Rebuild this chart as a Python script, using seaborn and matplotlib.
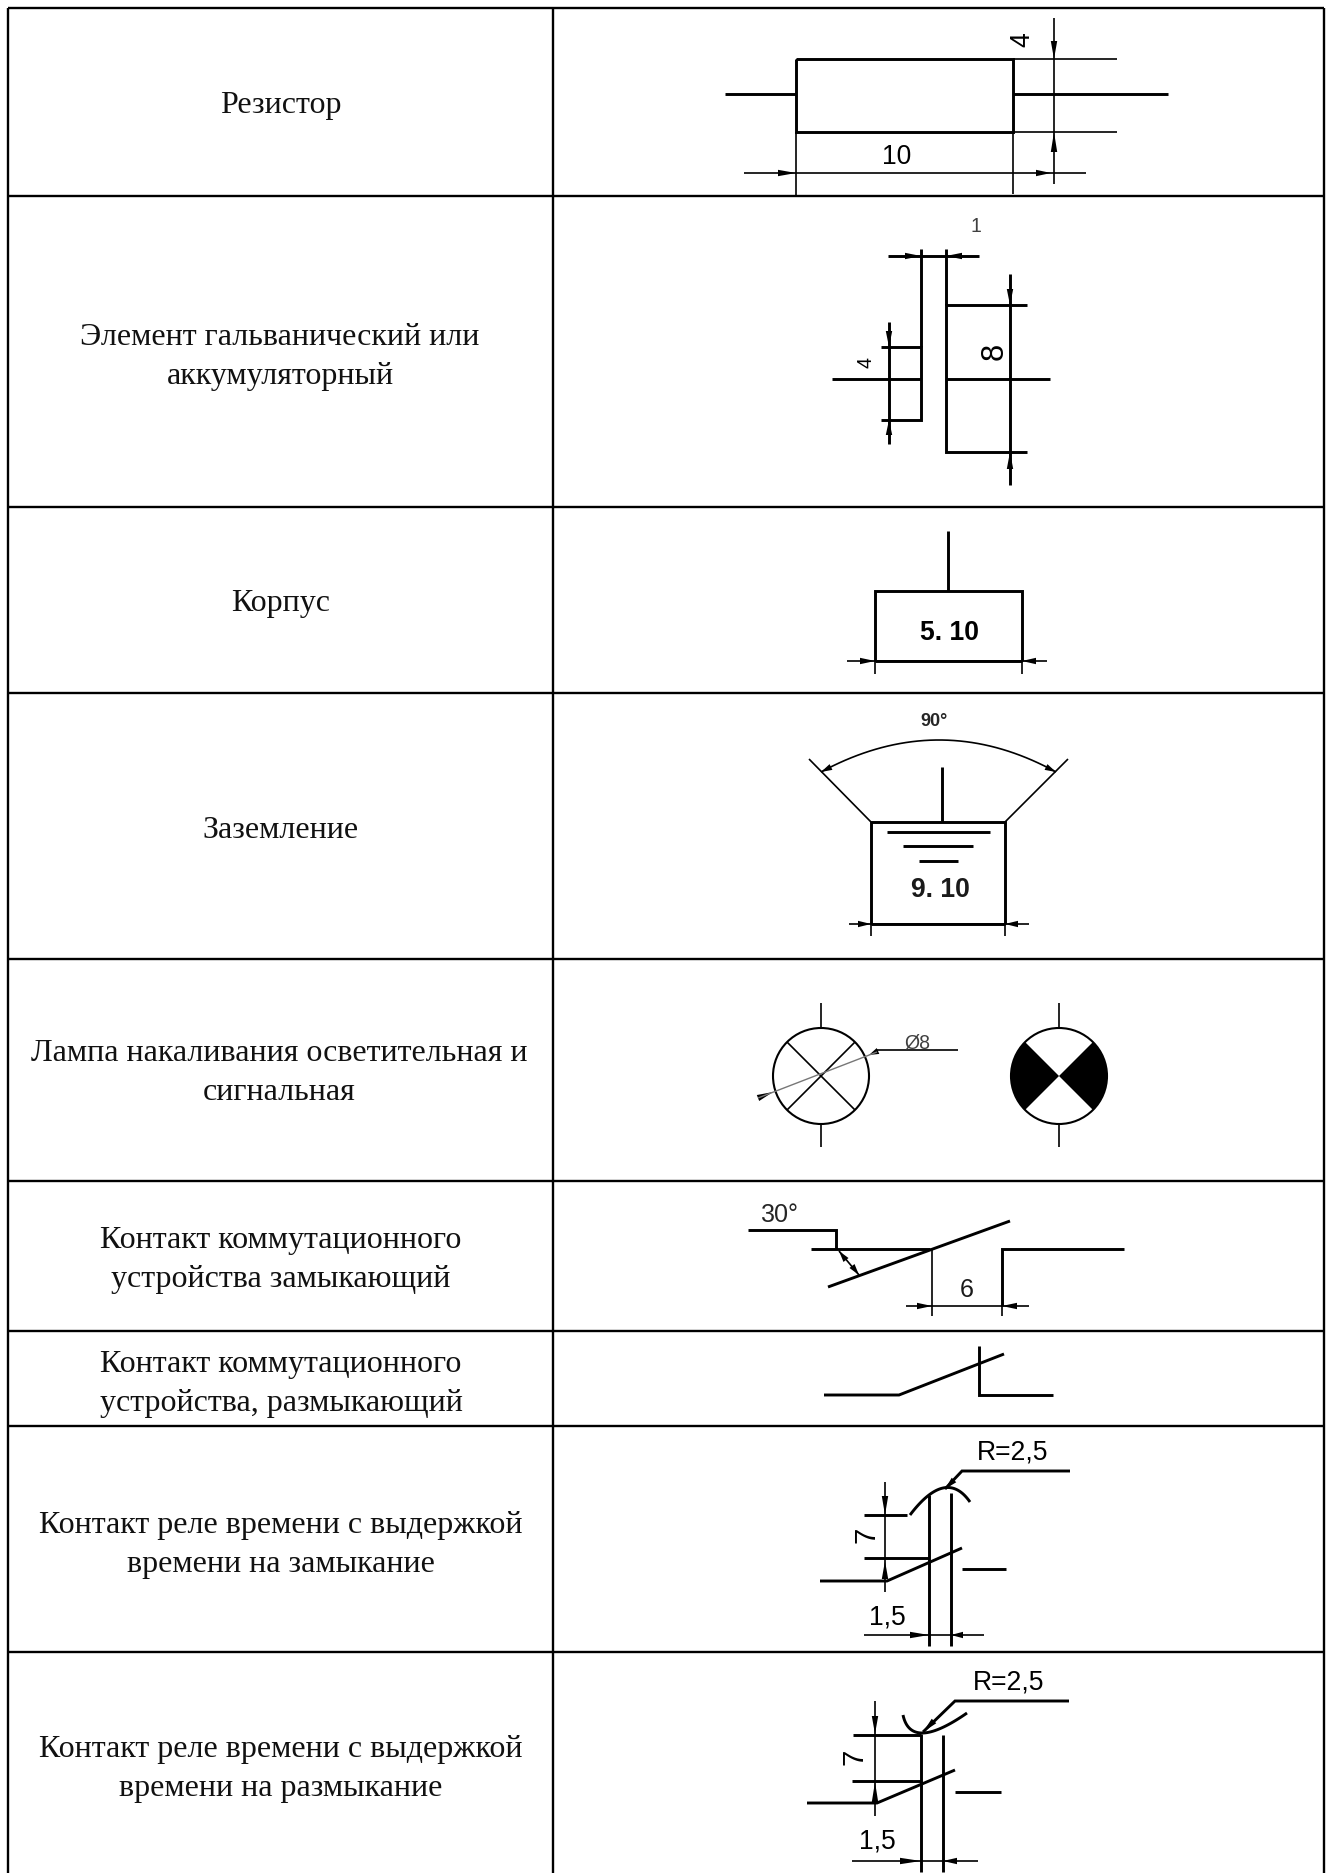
import numpy as np
import pandas as pd
import seaborn as sns
import matplotlib.pyplot as plt
from matplotlib.patches import Circle, Wedge

sns.set_theme(style="white")
plt.rcParams['font.family'] = ['Liberation Sans', 'DejaVu Sans']

# table
row_labels = ["Резистор",
              "Элемент гальванический или\nаккумуляторный",
              "Корпус",
              "Заземление",
              "Лампа накаливания осветительная и\nсигнальная",
              "Контакт коммутационного\nустройства замыкающий",
              "Контакт коммутационного\nустройства, размыкающий",
              "Контакт реле времени с выдержкой\nвремени на замыкание",
              "Контакт реле времени с выдержкой\nвремени на размыкание"]
label_y = [106, 357, 604, 831, 1073, 1260, 1384, 1545, 1769]
label_x = [281, 280, 281, 281, 279, 281, 281, 281, 281]
row_lines = [9, 197, 508, 694, 960, 1182, 1332, 1427, 1653]
col_lines = [8, 553, 1324]


def curve(p0, pm, p2, n=40):
    # quadratic curve through three points
    p0, pm, p2 = np.array(p0), np.array(pm), np.array(p2)
    c = 2 * pm - (p0 + p2) / 2
    t = np.linspace(0, 1, n)[:, None]
    return ((1 - t) ** 2 * p0 + 2 * t * (1 - t) * c + t ** 2 * p2).tolist()


# symbol outlines, in picture pixels
thick = [
    # resistor
    [(796, 60), (1013, 60), (1013, 133), (796, 133), (796, 60)],
    [(725, 95), (796, 95)], [(1013, 95), (1168, 95)],
    # cell
    [(881, 348), (921, 348), (921, 421), (881, 421)], [(921, 250), (921, 348)],
    [(1027, 306), (946, 306), (946, 453), (1027, 453)], [(946, 250), (946, 306)],
    [(832, 380), (921, 380)], [(946, 380), (1050, 380)],
    [(888, 257), (979, 257)], [(1010, 275), (1010, 486)], [(889, 323), (889, 445)],
    # case
    [(875, 662), (875, 592), (1022, 592), (1022, 662)], [(948, 532), (948, 592)],
    [(875, 662), (1022, 662)],
    # earth
    [(942, 768), (942, 823)], [(887, 833), (990, 833)], [(903, 847), (973, 847)], [(919, 862), (958, 862)],
    [(871, 925), (871, 823), (1005, 823), (1005, 925)], [(871, 925), (1005, 925)],
    # contacts
    [(748, 1231), (836, 1231), (836, 1250)], [(811, 1250), (930, 1250)],
    [(828, 1288), (1010, 1222)], [(1002, 1307), (1002, 1250), (1124, 1250)],
    [(824, 1396), (899, 1396), (1004, 1355)], [(979, 1347), (979, 1396), (1053, 1396)],
    # relay, closing
    [(929, 1496), (929, 1647)], [(951, 1494), (951, 1647)],
    [(864, 1516), (907, 1516)], [(864, 1559), (929, 1559)],
    [(820, 1582), (887, 1582), (962, 1549)], [(962, 1570), (1006, 1570)],
    curve((910, 1516), (943, 1489), (970, 1503)),
    [(1070, 1472), (962, 1472), (945, 1490)],
    # relay, opening
    [(921, 1735), (921, 1873)], [(943, 1736), (943, 1873)],
    [(853, 1736), (921, 1736)], [(852, 1782), (921, 1782)],
    [(807, 1804), (877, 1804), (955, 1771)], [(955, 1793), (1001, 1793)],
    curve((903, 1716), (923, 1734), (967, 1714)),
    [(1069, 1702), (955, 1702), (923, 1733)],
]
thin = [
    # resistor
    [(1013, 60), (1117, 60)], [(1013, 133), (1117, 133)],
    [(796, 133), (796, 197)], [(1013, 133), (1013, 195)],
    [(744, 174), (1086, 174)], [(1054, 19), (1054, 185)],
    # case
    [(875, 662), (875, 675)], [(1022, 662), (1022, 675)], [(847, 662), (1047, 662)],
    # earth
    [(871, 925), (871, 937)], [(1005, 925), (1005, 937)], [(849, 925), (1029, 925)],
    [(871, 823), (809, 760)], [(1005, 823), (1068, 760)],
    curve((821, 773), (939, 741), (1056, 773)),
    # lamps
    [(821, 1004), (821, 1029)], [(821, 1124), (821, 1148)],
    [(1059, 1004), (1059, 1029)], [(1059, 1124), (1059, 1148)],
    [(787, 1043), (855, 1111)], [(787, 1111), (855, 1043)],
    [(877, 1051), (958, 1051)],
    # contacts
    [(839, 1252), (859, 1276)], [(932, 1250), (932, 1317)], [(1002, 1307), (1002, 1317)],
    [(906, 1307), (1029, 1307)],
    # relay dimensions
    [(885, 1483), (885, 1593)], [(864, 1636), (984, 1636)],
    [(875, 1702), (875, 1817)], [(852, 1862), (978, 1862)],
]
leader_grey = [[(758, 1099), (877, 1053)]]

# arrow heads as (tip, base)
arrows = [
    ((796, 174), (778, 174)), ((1051, 174), (1036, 174)), ((1054, 60), (1054, 42)), ((1054, 133), (1054, 153)),
    ((921, 257), (905, 257)), ((946, 257), (962, 257)), ((1010, 306), (1010, 290)), ((1010, 453), (1010, 470)),
    ((889, 348), (889, 332)), ((889, 421), (889, 436)),
    ((875, 662), (860, 662)), ((1022, 662), (1036, 662)),
    ((871, 925), (858, 925)), ((1005, 925), (1018, 925)), ((821, 773), (831, 768)), ((1056, 773), (1046, 768)),
    ((869, 1056), (878, 1052)), ((773, 1093), (758, 1099)),
    ((839, 1252), (846, 1261)), ((859, 1276), (852, 1267)), ((932, 1307), (917, 1307)), ((1002, 1307), (1017, 1307)),
    ((945, 1490), (954, 1481)), ((885, 1516), (885, 1497)), ((885, 1562), (885, 1580)),
    ((929, 1636), (910, 1636)), ((951, 1636), (963, 1636)),
    ((923, 1733), (934, 1722)), ((875, 1735), (875, 1717)), ((875, 1783), (875, 1803)),
    ((921, 1862), (900, 1862)), ((943, 1862), (957, 1862)),
]

# dimension texts
dim_text = ["10", "4", "1", "8", "4", "5. 10", "90°", "9. 10", "Ø8", "30°", "6",
            "R=2,5", "7", "1,5", "R=2,5", "7", "1,5"]
dim_x = [897, 1022, 976, 995, 866, 949, 934, 940, 917, 779, 967, 1013, 866, 887, 1009, 854, 877]
dim_y = [157, 40, 227, 351, 363, 633, 722, 890, 1043, 1215, 1290, 1453, 1535, 1618, 1683, 1757, 1842]
dim_size = [19, 19, 14, 22, 14, 19, 13, 19, 14, 18, 18, 19, 21, 19, 19, 21, 19]
dim_rot = [0, 90, 0, 90, 90, 0, 0, 0, 0, 0, 0, 0, 90, 0, 0, 90, 0]
dim_grey = [0, 0, 0.25, 0, 0, 0, 0.15, 0.1, 0.25, 0.15, 0.1, 0, 0, 0, 0, 0, 0]
dim_weight = ['normal'] * 5 + ['bold', 'bold', 'bold'] + ['normal'] * 9

fig = plt.figure(figsize=(13.26, 18.74), dpi=100, facecolor='white')
ax = fig.add_axes([0, 0, 1, 1])


def draw(segments, lw, color='black'):
    rows = [{'seg': i, 'x': x, 'y': y} for i, s in enumerate(segments) for x, y in s]
    sns.lineplot(data=pd.DataFrame(rows), x='x', y='y', units='seg', estimator=None, sort=False,
                 color=color, lw=lw, ax=ax, legend=False, solid_capstyle='butt', solid_joinstyle='miter')


# grid
draw([[(col_lines[0], y), (col_lines[2], y)] for y in row_lines], 1.7)
draw([[(x, row_lines[0]), (x, 1874)] for x in col_lines], 1.7)

draw(thick, 2.1)
draw(thin, 1.2)
draw(leader_grey, 1.0, color='#777777')

for tip, base in arrows:
    t, b = np.array(tip, float), np.array(base, float)
    d = (t - b) / np.hypot(*(t - b))
    n = np.array([-d[1], d[0]]) * 3.2
    ax.fill(*zip(t, b + n, b - n), color='black', lw=0)

# lamps
ax.add_patch(Wedge((1059, 1077), 48, -45, 45, fc='black', ec='none'))
ax.add_patch(Wedge((1059, 1077), 48, 135, 225, fc='black', ec='none'))
ax.add_patch(Circle((821, 1077), 48, fc='none', ec='black', lw=1.5))
ax.add_patch(Circle((1059, 1077), 48, fc='none', ec='black', lw=1.5))

for txt, x, y in zip(row_labels, label_x, label_y):
    ax.text(x, y, txt, ha='center', va='center', family=['Liberation Serif'], fontsize=23,
            linespacing=1.42, color='#111111')

for i, txt in enumerate(dim_text):
    ax.text(dim_x[i], dim_y[i], txt, ha='center', va='center', rotation=dim_rot[i],
            fontsize=dim_size[i] / 0.716 * 0.72, fontweight=dim_weight[i], color=str(dim_grey[i]))

ax.set_xlim(0, 1326)
ax.set_ylim(1874, 0)
ax.axis('off')
fig.savefig('out.png', dpi=100, facecolor='white')
